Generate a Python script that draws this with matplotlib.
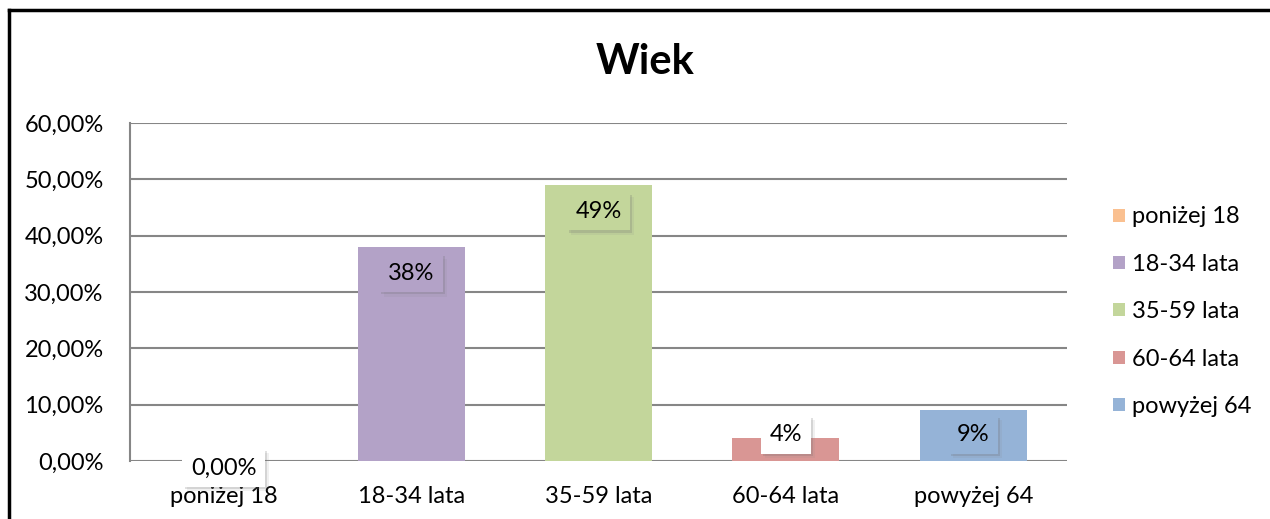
import numpy as np
import matplotlib
matplotlib.use("Agg")
import matplotlib.pyplot as plt
import matplotlib.patheffects as pe
from matplotlib.patches import Patch
from matplotlib.lines import Line2D

plt.rcParams["font.family"] = ["Lato", "DejaVu Sans"]

# ── dane ──────────────────────────────────────────────
categories = ["poniżej 18", "18-34 lata", "35-59 lata", "60-64 lata", "powyżej 64"]
values = [0.0, 0.38, 0.49, 0.04, 0.09]
labels = ["0,00%", "38%", "49%", "4%", "9%"]
colors = ["#FAC090", "#B3A2C7", "#C3D69B", "#D99694", "#95B3D7"]
yticks = [0.0, 0.1, 0.2, 0.3, 0.4, 0.5, 0.6]
ytick_labels = ["0,00%", "10,00%", "20,00%", "30,00%", "40,00%", "50,00%", "60,00%"]

FS = 17
fig = plt.figure(figsize=(12.7, 5.19), dpi=100)
ax = fig.add_axes([130 / 1270, 58 / 519, 937 / 1270, 338 / 519])

x = np.arange(len(categories))
ax.bar(x, values, 0.57, color=colors, zorder=3)

ax.set_xlim(-0.5, len(categories) - 0.5)
ax.set_ylim(0, 0.6)
ax.set_yticks(yticks)
ax.set_yticklabels(ytick_labels, fontsize=FS)
ax.set_xticks(x)
ax.set_xticklabels(categories, fontsize=FS)
ax.tick_params(axis="y", length=0, pad=19)
ax.tick_params(axis="x", length=0, pad=18)
ax.grid(axis="y", color="#868686", lw=1.5, zorder=1)
for s in ["top", "right", "bottom"]:
    ax.spines[s].set_visible(False)
ax.spines["left"].set_color("#868686")
ax.spines["left"].set_linewidth(1.5)

# etykiety danych (miękki cień)
shadow = [pe.withSimplePatchShadow(offset=(3, -3), shadow_rgbFace="#888888", alpha=0.12),
          pe.withSimplePatchShadow(offset=(1.5, -1.5), shadow_rgbFace="#666666", alpha=0.2)]
for xi, v, lab, c in zip(x, values, labels, colors):
    if v == 0:
        y, fc = -0.013, "white"
    else:
        y = max(v - 0.047, 0.047)
        fc = c if v > 0.08 else "white"
    t = ax.text(xi, y, lab, ha="center", va="center", fontsize=FS, zorder=5,
                bbox=dict(boxstyle="square,pad=0.36", fc=fc, ec="none"))
    t.get_bbox_patch().set_path_effects(shadow)

# tytuł
fig.text(645 / 1270, 1 - 62 / 519, "Wiek", ha="center", va="center",
         fontsize=30, fontweight="bold")

# legenda
handles = [Patch(facecolor=c, edgecolor="none") for c in colors]
fig.legend(handles, categories, loc="upper left", bbox_to_anchor=(1104 / 1270, 1 - 197 / 519),
           frameon=False, fontsize=FS, handlelength=0.47, handleheight=0.47,
           handletextpad=0.3, labelspacing=1.12, borderaxespad=0)

# ramka wykresu
fig.add_artist(Line2D([9 / 1270, 9 / 1270], [0, 1 - 10 / 519], color="black", lw=2.5,
                      transform=fig.transFigure))
fig.add_artist(Line2D([9 / 1270, 1], [1 - 10 / 519, 1 - 10 / 519], color="black", lw=2.5,
                      transform=fig.transFigure))

fig.savefig("out.png", dpi=100)
